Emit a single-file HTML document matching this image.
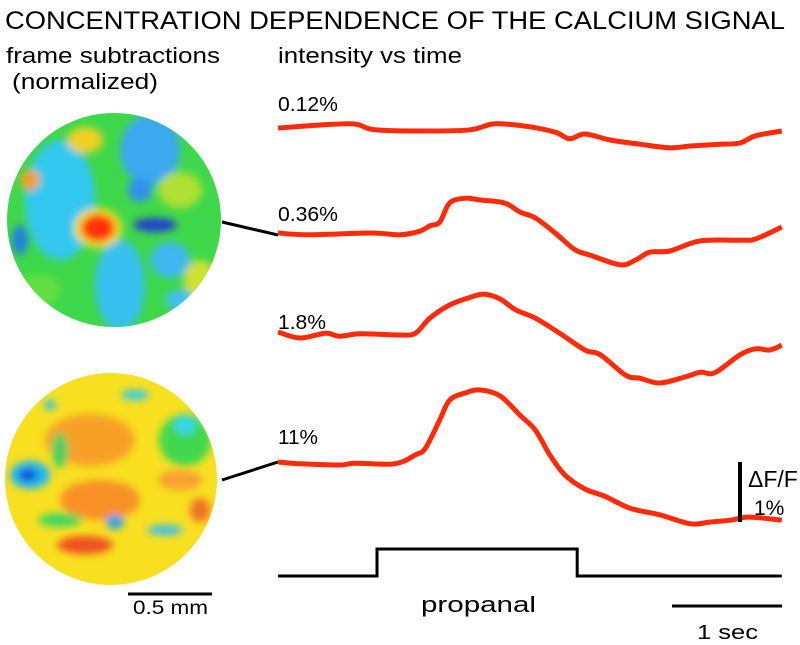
<!DOCTYPE html>
<html><head><meta charset="utf-8"><style>
html,body{margin:0;padding:0;background:#fff;}
svg{display:block;font-family:"Liberation Sans",sans-serif;}
</style></head><body>
<svg id="fig" width="800" height="645" viewBox="0 0 800 645">
<defs>
<filter id="bl" x="-20%" y="-20%" width="140%" height="140%"><feGaussianBlur stdDeviation="4"/></filter>
<clipPath id="c1"><circle cx="114" cy="220" r="107"/></clipPath>
<clipPath id="c2"><circle cx="111" cy="479" r="106"/></clipPath>
</defs>
<text x="5" y="29" font-size="25" textLength="780" lengthAdjust="spacingAndGlyphs">CONCENTRATION DEPENDENCE OF THE CALCIUM SIGNAL</text>
<text x="6" y="63" font-size="22" textLength="214" lengthAdjust="spacingAndGlyphs">frame subtractions</text>
<text x="12" y="89" font-size="22" textLength="146" lengthAdjust="spacingAndGlyphs">(normalized)</text>
<text x="278" y="63" font-size="22" textLength="184" lengthAdjust="spacingAndGlyphs">intensity vs time</text>

<g clip-path="url(#c1)">
<rect x="0" y="100" width="240" height="240" fill="#3fd84a"/>
<g filter="url(#bl)">
<ellipse cx="60" cy="200" rx="35" ry="60" fill="#33c8f0"/>
<ellipse cx="150" cy="150" rx="30" ry="35" fill="#3aa8f0"/>
<ellipse cx="120" cy="285" rx="25" ry="45" fill="#38c0f0"/>
<ellipse cx="170" cy="260" rx="20" ry="18" fill="#40b8f0"/>
<ellipse cx="155" cy="225" rx="22" ry="7" fill="#2040d0"/>
<ellipse cx="85" cy="140" rx="18" ry="13" fill="#f0d020"/>
<ellipse cx="30" cy="180" rx="10" ry="10" fill="#f0a020"/>
<ellipse cx="180" cy="190" rx="22" ry="18" fill="#b0e030"/>
<ellipse cx="200" cy="160" rx="10" ry="10" fill="#40d850"/>
<ellipse cx="98" cy="228" rx="24" ry="20" fill="#f0e020"/>
<ellipse cx="98" cy="228" rx="17" ry="14" fill="#ff3010"/>
<ellipse cx="200" cy="280" rx="16" ry="20" fill="#d0e030"/>
<ellipse cx="40" cy="290" rx="20" ry="16" fill="#60e040"/>
<ellipse cx="180" cy="300" rx="15" ry="10" fill="#40c0f0"/>
<ellipse cx="20" cy="240" rx="8" ry="15" fill="#2080e0"/>
<ellipse cx="140" cy="190" rx="12" ry="12" fill="#3090f0"/>
</g></g>

<g clip-path="url(#c2)">
<rect x="0" y="360" width="240" height="240" fill="#f8e020"/>
<g filter="url(#bl)">
<ellipse cx="90" cy="440" rx="45" ry="26" fill="#f8a028"/>
<ellipse cx="100" cy="500" rx="40" ry="20" fill="#f89028"/>
<ellipse cx="85" cy="545" rx="28" ry="9" fill="#f05020"/>
<ellipse cx="30" cy="475" rx="20" ry="14" fill="#20b8f0"/>
<ellipse cx="28" cy="475" rx="9" ry="6" fill="#1040d0"/>
<ellipse cx="185" cy="440" rx="26" ry="26" fill="#40d850"/>
<ellipse cx="185" cy="425" rx="10" ry="9" fill="#30d8f0"/>
<ellipse cx="135" cy="395" rx="14" ry="5" fill="#30c8f0"/>
<ellipse cx="60" cy="520" rx="22" ry="7" fill="#40d860"/>
<ellipse cx="115" cy="522" rx="9" ry="7" fill="#20a0f0"/>
<ellipse cx="165" cy="530" rx="18" ry="5" fill="#30c0f0"/>
<ellipse cx="60" cy="450" rx="8" ry="18" fill="#40d060"/>
<ellipse cx="180" cy="480" rx="22" ry="10" fill="#f8a030"/>
<ellipse cx="50" cy="405" rx="6" ry="5" fill="#30c0f0"/>
<ellipse cx="200" cy="510" rx="10" ry="12" fill="#f07028"/>
</g></g>

<line x1="222" y1="222" x2="278" y2="235" stroke="#000" stroke-width="3"/>
<line x1="222" y1="480" x2="278" y2="462" stroke="#000" stroke-width="3"/>

<line x1="128" y1="594" x2="212" y2="594" stroke="#000" stroke-width="3"/>
<text x="133" y="614" font-size="19" textLength="75" lengthAdjust="spacingAndGlyphs">0.5 mm</text>

<text x="278" y="111" font-size="20" textLength="60" lengthAdjust="spacingAndGlyphs">0.12%</text>
<text x="278" y="221" font-size="20" textLength="60" lengthAdjust="spacingAndGlyphs">0.36%</text>
<text x="278" y="329" font-size="20" textLength="48" lengthAdjust="spacingAndGlyphs">1.8%</text>
<text x="278" y="444" font-size="20" textLength="40" lengthAdjust="spacingAndGlyphs">11%</text>

<g id="traces"></g>
<g id="stim"></g>

<line x1="740" y1="462" x2="740" y2="522" stroke="#000" stroke-width="4"/>
<text x="748" y="487" font-size="23">ΔF/F</text>
<text x="754" y="515" font-size="21">1%</text>
<line x1="672" y1="606" x2="782" y2="606" stroke="#000" stroke-width="3"/>
<text x="697" y="639" font-size="20" textLength="61" lengthAdjust="spacingAndGlyphs">1 sec</text>
<text x="421" y="612" font-size="22" textLength="115" lengthAdjust="spacingAndGlyphs">propanal</text>
</svg>
<script>
// time in seconds, values in % dF/F
const t012 = [0,0.65,0.88,1.38,1.75,1.97,2.25,2.52,2.65,2.79,3.02,3.29,3.56,3.75,4.02,4.2,4.34,4.58];
const v012 = [0,0.07,-0.03,-0.05,-0.03,0.07,0.03,-0.07,-0.18,-0.1,-0.2,-0.27,-0.33,-0.3,-0.27,-0.25,-0.13,-0.05];
const t036 = [0,0.29,0.84,1.11,1.29,1.38,1.47,1.56,1.7,1.84,2.06,2.2,2.34,2.52,2.7,2.84,3.11,3.25,3.38,3.56,3.84,4.2,4.34,4.58];
const v036 = [0,-0.03,0,-0.03,0.03,0.12,0.18,0.5,0.58,0.55,0.5,0.35,0.25,0,-0.28,-0.37,-0.53,-0.45,-0.32,-0.3,-0.13,-0.12,-0.1,0.1];
const t18 = [0,0.2,0.43,0.56,0.75,1.11,1.25,1.38,1.56,1.75,1.88,2.02,2.16,2.34,2.56,2.79,2.93,3.16,3.29,3.47,3.7,3.84,3.97,4.2,4.34,4.47,4.58];
const v18 = [0,-0.1,-0.02,-0.07,-0.03,-0.05,-0.02,0.23,0.45,0.58,0.63,0.55,0.37,0.23,-0.02,-0.3,-0.38,-0.72,-0.77,-0.85,-0.75,-0.67,-0.68,-0.38,-0.28,-0.3,-0.22];
const t11 = [0,0.2,0.56,0.7,1.06,1.25,1.34,1.47,1.56,1.7,1.84,2.02,2.2,2.34,2.47,2.61,2.79,2.97,3.2,3.47,3.75,3.93,4.11,4.25,4.38,4.58];
const v11 = [0,-0.03,-0.05,-0.02,-0.03,0.12,0.23,0.7,1.03,1.15,1.2,1.1,0.78,0.53,0.12,-0.22,-0.45,-0.57,-0.77,-0.88,-1.03,-1.0,-0.97,-0.92,-0.93,-0.97];
const traceNames = ["trace-0-12","trace-0-36","trace-1-8","trace-11"];
const baselines = [128,233,332,462];
const stimOn = 0.9, stimOff = 2.72, stimEnd = 4.58;

const X0 = 278, PX_PER_SEC = 110, PX_PER_PCT = 60;
function xs(t){ return X0 + t*PX_PER_SEC; }
function ys(v, base){ return base - v*PX_PER_PCT; }
function smoothPath(pts){
  let d = "M" + pts[0][0].toFixed(1) + "," + pts[0][1].toFixed(1);
  for (let i=0;i<pts.length-1;i++){
    const p0=pts[Math.max(0,i-1)], p1=pts[i], p2=pts[i+1], p3=pts[Math.min(pts.length-1,i+2)];
    const c1=[p1[0]+(p2[0]-p0[0])/6, p1[1]+(p2[1]-p0[1])/6];
    const c2=[p2[0]-(p3[0]-p1[0])/6, p2[1]-(p3[1]-p1[1])/6];
    d += " C"+c1[0].toFixed(1)+","+c1[1].toFixed(1)+" "+c2[0].toFixed(1)+","+c2[1].toFixed(1)+" "+p2[0].toFixed(1)+","+p2[1].toFixed(1);
  }
  return d;
}
const NS = "http://www.w3.org/2000/svg";
const g = document.getElementById("traces");
const series = [[t012,v012],[t036,v036],[t18,v18],[t11,v11]];
series.forEach((s,k)=>{
  const pts = s[0].map((t,i)=>[xs(t), ys(s[1][i], baselines[k])]);
  const p = document.createElementNS(NS,"path");
  p.setAttribute("d", smoothPath(pts));
  p.setAttribute("fill","none");
  p.setAttribute("stroke","#ff2a0a");
  p.setAttribute("stroke-width","5");
  p.setAttribute("stroke-linejoin","round");
  
  
  g.appendChild(p);
});
const sg = document.getElementById("stim");
const sp = document.createElementNS(NS,"path");
const lo = 576, hi = 549;
sp.setAttribute("d", "M"+xs(0)+","+lo+" H"+xs(stimOn)+" V"+hi+" H"+xs(stimOff)+" V"+lo+" H"+xs(stimEnd));
sp.setAttribute("fill","none");
sp.setAttribute("stroke","#000");
sp.setAttribute("stroke-width","3");


sg.appendChild(sp);
</script>
</body></html>
